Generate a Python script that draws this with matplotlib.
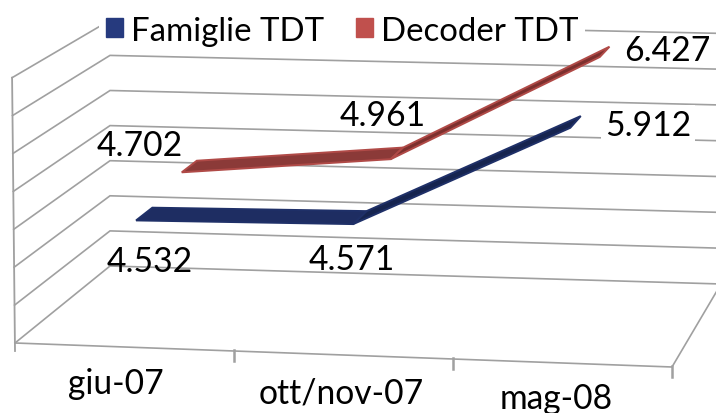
#!/usr/bin/env python3
"""3D-looking line chart (two ribbons on a tilted box), drawn on a pixel-sized axes."""
import numpy as np
import matplotlib
matplotlib.use("Agg")
import matplotlib.pyplot as plt
from matplotlib.patches import Polygon, Rectangle

plt.rcParams["font.family"] = ["Lato", "DejaVu Sans"]

W, H = 716, 414

categories = ["giu-07", "ott/nov-07", "mag-08"]
famiglie = [4532, 4571, 5912]
decoder = [4702, 4961, 6427]
famiglie_labels = ["4.532", "4.571", "5.912"]
decoder_labels = ["4.702", "4.961", "6.427"]
grid_values = [3000, 3500, 4000, 4500, 5000, 5500, 6000, 6500]

GRID = "#a0a0a0"
BLUE, RED = "#263a7e", "#c0504d"
VMIN = grid_values[0]

# floor corners of the box, in output pixels
FL, FR = np.array([15.0, 344.0]), np.array([672.0, 368.0])
BL, BR = np.array([110.0, 267.0]), np.array([721.0, 285.0])
# pixels per value unit at left/right, front/back
K = {"lf": 37.9 / 500, "lb": 35.1 / 500, "rf": 39.0 / 500, "rb": 35.8 / 500}


def project(u, v, d):
    """u across categories 0..1, v data value, d depth 0..1 -> pixel x, y"""
    front = FL + (FR - FL) * u
    back = BL + (BR - BL) * u
    p = front + (back - front) * d
    k_front = K["lf"] + (K["rf"] - K["lf"]) * u
    k_back = K["lb"] + (K["rb"] - K["lb"]) * u
    h = (v - VMIN) * (k_front + (k_back - k_front) * d)
    lean = 0.011 * h * (1 - u) * (1 - d)
    return p[0] - lean, p[1] - h


def ribbon(ax, values, d0, d1, flat, dark, edge):
    n = len(values)
    us = [(i + 0.5) / n for i in range(n)]
    for i in range(n - 1):
        pts = [project(us[i], values[i], d0), project(us[i + 1], values[i + 1], d0),
               project(us[i + 1], values[i + 1], d1), project(us[i], values[i], d1)]
        rising = values[i + 1] - values[i] > 500
        ax.add_patch(Polygon(pts, closed=True, facecolor=dark if rising else flat,
                             edgecolor=edge, lw=1.4, zorder=3))


fig = plt.figure(figsize=(W / 100, H / 100), dpi=100)
ax = fig.add_axes([0, 0, 1, 1])
ax.set_xlim(0, W)
ax.set_ylim(H, 0)
ax.axis("off")

# walls
for v in grid_values:
    a, b, c = project(0, v, 0), project(0, v, 1), project(1, v, 1)
    ax.plot(*zip(a, b, c), color=GRID, lw=1.2, zorder=1, solid_joinstyle="miter")
top_left = project(0, grid_values[-1], 0)
ax.plot(*zip(top_left, (FL[0], FL[1] + 8)), color=GRID, lw=1.3, zorder=1)

# floor edges and ticks
ax.plot(*zip(project(0, VMIN, 0), project(1, VMIN, 0), project(1, VMIN, 1)),
        color=GRID, lw=1.2, zorder=1)
for i in range(1, len(categories) + 1):
    x, y = project(i / len(categories), VMIN, 0)
    ax.plot([x, x], [y - 1, y + 10], color=GRID, lw=1.8, zorder=1)

# series ribbons
ribbon(ax, famiglie, 0.143, 0.327, "#1e2d62", "#16244f", "#1f3068")
ribbon(ax, decoder, 0.66, 0.83, "#8b3a38", "#7c302e", "#b04a47")

# value labels
font = 24.2
label_pos = {"4.532": (150, 259), "4.571": (352, 257), "5.912": (648, 123),
             "4.702": (140, 143.5), "4.961": (383, 113), "6.427": (667, 48)}
for lab in famiglie_labels + decoder_labels:
    x, y = label_pos[lab]
    bbox = dict(fc="white", ec="none", pad=3) if lab == "5.912" else None
    ax.text(x, y, lab, ha="center", va="center_baseline", fontsize=font, color="black",
            zorder=4, bbox=bbox)

# category labels, they follow the floor downhill
for lab, x, y in zip(categories, [116, 341, 556], [394, 404, 409]):
    ax.text(x, y, lab, ha="center", va="baseline", fontsize=font, color="black", zorder=4)

handles = [Rectangle((0, 0), 1, 1, color=BLUE), Rectangle((0, 0), 1, 1, color=RED)]
ax.legend(handles, ["Famiglie TDT", "Decoder TDT"], ncol=2, loc="upper left",
          bbox_to_anchor=(99 / W, 1 - 10 / H), fontsize=23.8, frameon=True, facecolor="white",
          edgecolor="none", framealpha=1, fancybox=False, borderpad=0.2, borderaxespad=0,
          handlelength=0.52, handleheight=0.5, handletextpad=0.25, columnspacing=0.95,
          labelspacing=0).set_zorder(2)

fig.savefig("out.png", dpi=100)
